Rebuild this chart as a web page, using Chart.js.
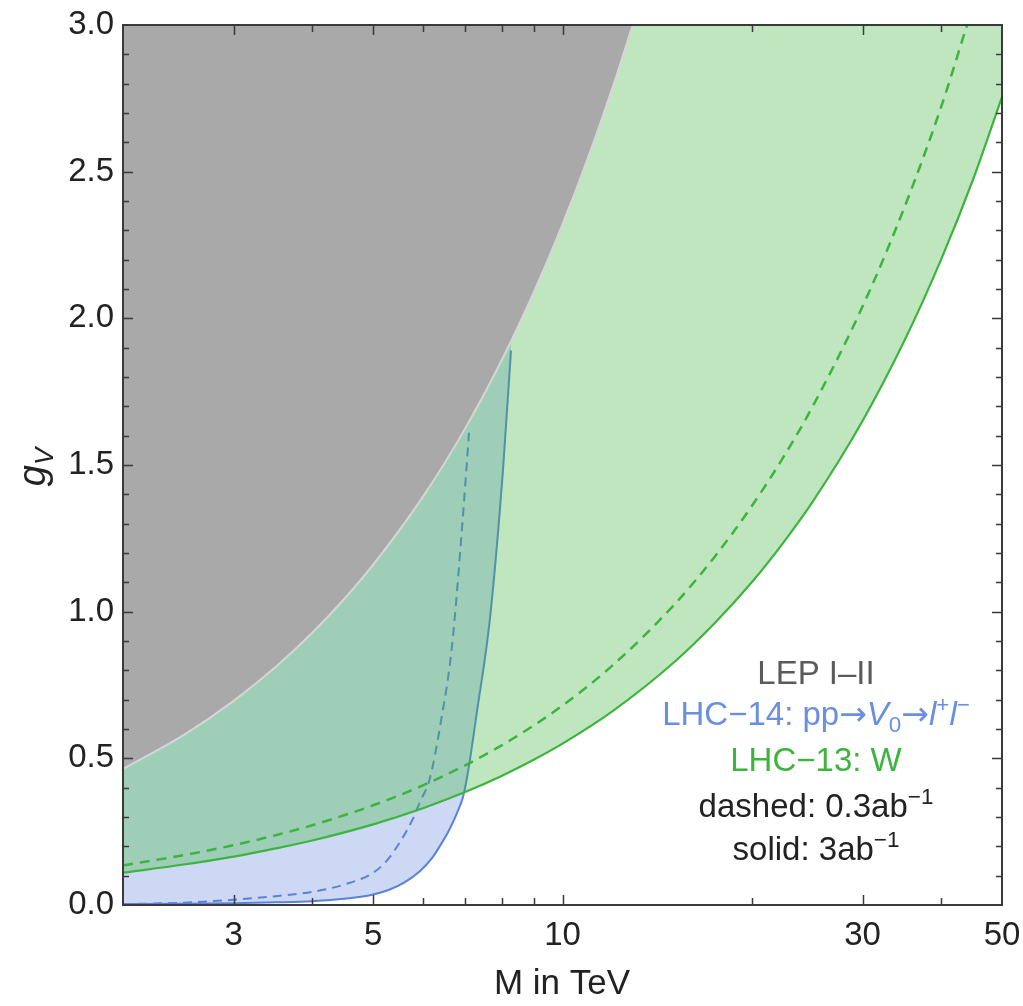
<!DOCTYPE html>
<html>
<head>
<meta charset="utf-8">
<title>g_V vs M</title>
<script src="https://cdn.jsdelivr.net/npm/chart.js@4.4.1/dist/chart.umd.min.js"></script>
<style>
  html, body { margin: 0; padding: 0; background: #fff; }
  #wrap { width: 1023px; height: 1006px; position: relative; }
</style>
</head>
<body>
<div id="wrap"><canvas id="plot"></canvas></div>
<script>
// LEP I-II bound (excluded above)
const lepM = [2, 2.5, 3, 3.5, 4, 4.5, 5, 6, 7, 8, 9, 10, 11, 12, 13];
const lepG = [0.464, 0.58, 0.696, 0.812, 0.928, 1.044, 1.16, 1.392, 1.624, 1.856, 2.088, 2.32, 2.552, 2.784, 3.016];

// LHC-13 W, 3ab^-1 (solid) and 0.3ab^-1 (dashed)
const w3M = [2, 2.5, 3, 3.5, 4, 5, 6, 7, 8, 9, 10, 12, 15, 17.5, 20, 22.5, 25, 30, 35, 40, 45, 50];
const w3G = [0.11, 0.138, 0.165, 0.193, 0.22, 0.275, 0.33, 0.385, 0.44, 0.495, 0.55, 0.66, 0.825, 0.963, 1.10, 1.238, 1.375, 1.65, 1.925, 2.2, 2.475, 2.755];
const w03M = [2, 2.5, 3, 3.5, 4, 5, 6, 7, 8, 9, 10, 12, 15, 17.5, 20, 22.5, 25, 30, 35, 40, 44, 46];
const w03G = [0.135, 0.17, 0.204, 0.238, 0.272, 0.34, 0.408, 0.476, 0.544, 0.612, 0.68, 0.816, 1.02, 1.19, 1.36, 1.53, 1.70, 2.04, 2.38, 2.72, 3.0, 3.13];

// LHC-14 pp -> V0 -> l+l-, 3ab^-1 (solid) and 0.3ab^-1 (dashed)
const dy3M = [2, 2.5, 3, 3.5, 4, 4.5, 5, 5.3, 5.6, 5.93, 6.2, 6.4, 6.6, 6.8, 6.95, 7.07, 7.3, 7.67, 8.04, 8.28];
const dy3G = [0.003, 0.004, 0.006, 0.009, 0.013, 0.021, 0.036, 0.052, 0.076, 0.115, 0.16, 0.205, 0.255, 0.315, 0.37, 0.45, 0.65, 0.98, 1.48, 1.89];
const dy03M = [2, 2.5, 3, 3.5, 4, 4.5, 5, 5.25, 5.46, 5.77, 5.93, 6.15, 6.4, 6.67, 6.93, 7.1];
const dy03G = [0.003, 0.008, 0.018, 0.03, 0.045, 0.07, 0.11, 0.15, 0.2, 0.29, 0.35, 0.43, 0.62, 0.88, 1.3, 1.61];

// axis ticks
const xTickVals = [2, 3, 4, 5, 6, 7, 8, 9, 10, 20, 30, 40, 50];
const xTickLabels = [3, 5, 10, 30, 50];

const FONT = "'Liberation Sans', Arial, Helvetica, sans-serif";
const ARROW_FONT = "'DejaVu Sans', sans-serif";
const GREEN = '#3db43d';
const BLUE = '#5b82d9';

function pts(xs, ys) {
    return xs.map((x, i) => ({ x: x, y: ys[i] }));
}

// frame + inward ticks on all four sides
const framePlugin = {
    id: 'frame',
    afterDatasetsDraw(chart) {
        const ctx = chart.ctx;
        const a = chart.chartArea;
        const xs = chart.scales.x;
        const ys = chart.scales.y;
        ctx.save();
        ctx.strokeStyle = '#3a3a3a';
        ctx.lineWidth = 1.5;
        xTickVals.forEach(v => {
            if (v <= 2 || v >= 50) return;
            const px = Math.round(xs.getPixelForValue(v)) + 0.5;
            const len = xTickLabels.includes(v) ? 10 : 7;
            ctx.beginPath();
            ctx.moveTo(px, a.bottom); ctx.lineTo(px, a.bottom - len);
            ctx.moveTo(px, a.top); ctx.lineTo(px, a.top + len);
            ctx.stroke();
        });
        for (let i = 1; i < 30; i++) {
            const v = i / 10;
            const py = Math.round(ys.getPixelForValue(v)) + 0.5;
            const len = i % 5 === 0 ? 10 : 6;
            ctx.beginPath();
            ctx.moveTo(a.left, py); ctx.lineTo(a.left + len, py);
            ctx.moveTo(a.right, py); ctx.lineTo(a.right - len, py);
            ctx.stroke();
        }
        ctx.lineWidth = 2;
        ctx.strokeRect(a.left, a.top, a.right - a.left, a.bottom - a.top);
        ctx.restore();
    }
};

// draws a line made of runs (normal / italic / sub / sup), centred on cx
function drawRuns(ctx, runs, cx, y, size) {
    const parts = runs.map(r => {
        const s = r.sub || r.sup ? size * 0.68 : size;
        const f = (r.it ? 'italic ' : '') + s + 'px ' + (r.f || FONT);
        ctx.font = f;
        return { t: r.t, f: f, w: ctx.measureText(r.t).width, dy: r.sub ? size * 0.22 : (r.sup ? -size * 0.38 : 0) };
    });
    const total = parts.reduce((s, p) => s + p.w, 0);
    let x = cx - total / 2;
    parts.forEach(p => {
        ctx.font = p.f;
        ctx.fillText(p.t, x, y + p.dy);
        x += p.w;
    });
}

const textPlugin = {
    id: 'texts',
    afterDraw(chart) {
        const ctx = chart.ctx;
        ctx.save();
        ctx.textAlign = 'left';
        ctx.textBaseline = 'alphabetic';
        const cx = 816;
        const size = 33;

        ctx.fillStyle = '#5a5a5a';
        drawRuns(ctx, [{ t: 'LEP I\u2013II' }], cx, 684, size);

        ctx.fillStyle = '#6a8fe0';
        drawRuns(ctx, [
            { t: 'LHC\u221214: pp' }, { t: '\u2192', f: ARROW_FONT }, { t: 'V', it: true }, { t: '0', sub: true },
            { t: '\u2192', f: ARROW_FONT }, { t: 'l', it: true }, { t: '+', sup: true }, { t: 'l', it: true }, { t: '\u2212', sup: true }
        ], cx, 725, size);

        ctx.fillStyle = GREEN;
        drawRuns(ctx, [{ t: 'LHC\u221213: W' }], cx, 771, size);

        ctx.fillStyle = '#222';
        drawRuns(ctx, [{ t: 'dashed: 0.3ab' }, { t: '\u22121', sup: true }], cx, 817, size);
        drawRuns(ctx, [{ t: 'solid: 3ab' }, { t: '\u22121', sup: true }], cx, 860, size);

        // x axis title
        drawRuns(ctx, [{ t: 'M in TeV' }], 562, 994, 35);

        // y axis title, rotated
        ctx.translate(45, 467);
        ctx.rotate(-Math.PI / 2);
        drawRuns(ctx, [{ t: 'g', it: true }, { t: 'V', it: true, sub: true }], 0, 0, 38);
        ctx.restore();
    }
};

const ctx = document.getElementById('plot').getContext('2d');
new Chart(ctx, {
    type: 'line',
    data: {
        datasets: [
            {
                label: 'LHC-14 3ab',
                data: pts(dy3M, dy3G),
                borderColor: BLUE,
                borderWidth: 2,
                backgroundColor: 'rgba(91,130,217,0.3)',
                fill: 'end',
                cubicInterpolationMode: 'monotone',
                pointRadius: 0,
                order: 6
            },
            {
                label: 'LHC-14 0.3ab',
                data: pts(dy03M, dy03G),
                borderColor: BLUE,
                borderWidth: 2,
                borderDash: [9, 6],
                fill: false,
                cubicInterpolationMode: 'monotone',
                pointRadius: 0,
                order: 5
            },
            {
                label: 'LHC-13 3ab',
                data: pts(w3M, w3G),
                borderColor: GREEN,
                borderWidth: 2.2,
                backgroundColor: 'rgba(60,180,60,0.33)',
                fill: 'end',
                cubicInterpolationMode: 'monotone',
                pointRadius: 0,
                order: 4
            },
            {
                label: 'LHC-13 0.3ab',
                data: pts(w03M, w03G),
                borderColor: GREEN,
                borderWidth: 2.5,
                borderDash: [10, 7],
                fill: false,
                cubicInterpolationMode: 'monotone',
                pointRadius: 0,
                order: 3
            },
            {
                label: 'LEP I-II',
                data: pts(lepM, lepG),
                borderColor: '#d6d6d6',
                borderWidth: 2,
                backgroundColor: '#a9a9a9',
                fill: 'end',
                cubicInterpolationMode: 'monotone',
                pointRadius: 0,
                order: 2
            }
        ]
    },
    options: {
        responsive: true,
        maintainAspectRatio: false,
        animation: false,
        layout: { padding: { left: 0, top: 25, right: 21, bottom: 0 } },
        plugins: {
            legend: { display: false },
            tooltip: { enabled: false }
        },
        scales: {
            x: {
                type: 'logarithmic',
                min: 2,
                max: 50,
                grid: { display: false, drawTicks: false },
                border: { display: false },
                afterBuildTicks: function(scale) {
                    scale.ticks = xTickVals.map(v => ({ value: v }));
                },
                afterFit: function(scale) {
                    scale.height = 101;
                    scale.paddingLeft = 0;
                    scale.paddingRight = 0;
                },
                ticks: {
                    autoSkip: false,
                    maxRotation: 0,
                    padding: 11,
                    color: '#222',
                    font: { family: FONT, size: 33 },
                    callback: function(value) {
                        return xTickLabels.includes(value) ? String(value) : '';
                    }
                }
            },
            y: {
                min: 0,
                max: 3,
                grid: { display: false, drawTicks: false },
                border: { display: false },
                afterFit: function(scale) {
                    scale.width = 123;
                    scale.paddingTop = 0;
                    scale.paddingBottom = 0;
                },
                ticks: {
                    stepSize: 0.5,
                    padding: 9,
                    color: '#222',
                    font: { family: FONT, size: 33 },
                    callback: function(value) {
                        return Number(value).toFixed(1);
                    }
                }
            }
        }
    },
    plugins: [framePlugin, textPlugin]
});
</script>
</body>
</html>
